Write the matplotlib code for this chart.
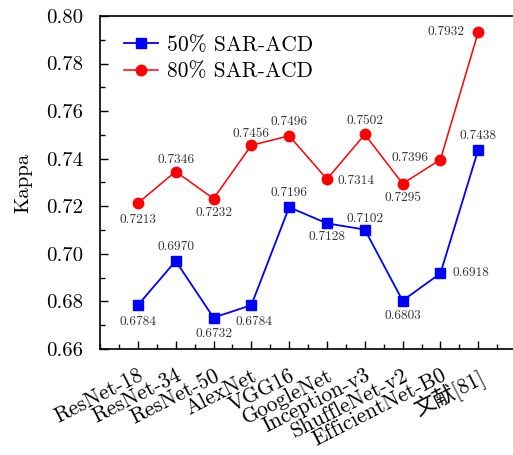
import matplotlib
matplotlib.use("Agg")
from matplotlib import pyplot as plt
from matplotlib.ticker import MultipleLocator
import matplotlib.transforms as mtrans
import numpy as np

models = ['ResNet-18', 'ResNet-34', 'ResNet-50', 'AlexNet', 'VGG16', 'GoogleNet',
          'Inception-v3', 'ShuffleNet-v2', 'EfficientNet-B0', '文献[81]']
kappa_50 = [0.6784, 0.6970, 0.6732, 0.6784, 0.7196, 0.7128, 0.7102, 0.6803, 0.6918, 0.7438]
kappa_80 = [0.7213, 0.7346, 0.7232, 0.7456, 0.7496, 0.7314, 0.7502, 0.7295, 0.7396, 0.7932]

# label offsets (points) for each value label
off_50 = [(0, -12), (0, 10), (0, -12), (2, -12), (0, 10), (0, -10), (0, 8), (0, -11), (22, 0), (0, 10)]
off_80 = [(0, -12), (0, 8), (0, -10), (0, 8), (0, 10), (21, -1), (0, 10), (0, -10), (-22, 1), (-23, 0)]

plt.rcParams['font.family'] = ['cmr10', 'Noto Sans CJK SC']
plt.rcParams['mathtext.fontset'] = 'cm'
plt.rcParams['axes.formatter.use_mathtext'] = True
plt.rcParams['axes.unicode_minus'] = False

fig = plt.figure(figsize=(5.13, 4.55), dpi=100)
ax = fig.add_axes([0.195, 0.233, 0.811, 0.732])

x = np.arange(len(models))
ax.plot(x, kappa_50, '-s', color='#0000ff', lw=1.3, ms=6.5, label='50% SAR-ACD')
ax.plot(x, kappa_80, '-o', color='#ff0000', lw=1.1, ms=7.5, label='80% SAR-ACD')

for i in range(len(models)):
    ax.annotate(f'{kappa_50[i]:.4f}', (x[i], kappa_50[i]), xytext=off_50[i],
                textcoords='offset points', ha='center', va='center',
                fontsize=9.6, color='#333333')
    ax.annotate(f'{kappa_80[i]:.4f}', (x[i], kappa_80[i]), xytext=off_80[i],
                textcoords='offset points', ha='center', va='center',
                fontsize=9.6, color='#333333')

ax.set_xlim(-1, 10)
ax.set_ylim(0.66, 0.80)
ax.set_xticks(x)
ax.set_xticklabels(models, rotation=27, ha='right', rotation_mode='anchor', fontsize=15.5)
shift = mtrans.ScaledTranslation(4 / 72, 0, fig.dpi_scale_trans)
for lab in ax.get_xticklabels():
    lab.set_transform(lab.get_transform() + shift)
ax.xaxis.set_minor_locator(MultipleLocator(0.5))
ax.yaxis.set_major_locator(MultipleLocator(0.02))
ax.yaxis.set_minor_locator(MultipleLocator(0.01))
ax.yaxis.set_major_formatter(matplotlib.ticker.FormatStrFormatter('%.2f'))
ax.tick_params(axis='both', which='both', direction='in', top=False, right=False)
ax.tick_params(axis='both', which='major', length=6, width=1)
ax.tick_params(axis='both', which='minor', length=3.5, width=1)
ax.tick_params(axis='y', labelsize=15, pad=12)
ax.tick_params(axis='x', pad=12)
for s in ax.spines.values():
    s.set_linewidth(1.2)
ax.spines['right'].set_visible(False)
ax.set_ylabel('Kappa', fontsize=15, labelpad=10)

ax.legend(loc='upper left', frameon=False, fontsize=15.5, bbox_to_anchor=(0.012, 1.0),
          handlelength=1.55, handletextpad=0.45, labelspacing=0.33)

fig.savefig('out.png', dpi=100)
